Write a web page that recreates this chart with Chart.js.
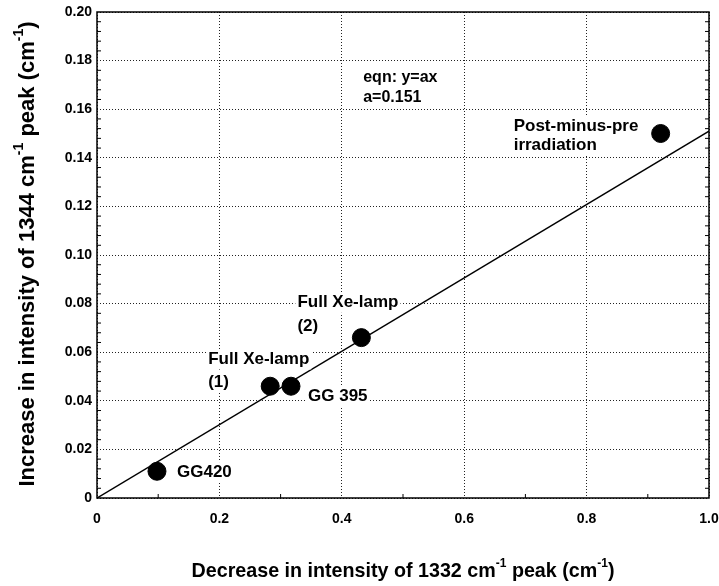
<!DOCTYPE html>
<html>
<head>
<meta charset="utf-8">
<script src="https://cdn.jsdelivr.net/npm/chart.js@4"></script>
<style>
  html, body { margin: 0; padding: 0; background: #fff; }
  #wrap { width: 719px; height: 586px; position: relative; }
</style>
</head>
<body>
<div id="wrap"><canvas id="chart"></canvas></div>
<script>
// samples
const sampleNames = ['GG420', 'Full Xe-lamp (1)', 'GG 395', 'Full Xe-lamp (2)', 'Post-minus-pre irradiation'];
const decrease1332 = [0.098, 0.283, 0.317, 0.432, 0.921];
const increase1344 = [0.011, 0.046, 0.046, 0.066, 0.150];

// fit y = a x
const slopeA = 0.151;
const fitX = [0, 1.0];

const xTicks = [0, 0.2, 0.4, 0.6, 0.8, 1.0];
const yTicks = [0, 0.02, 0.04, 0.06, 0.08, 0.10, 0.12, 0.14, 0.16, 0.18, 0.20];

const FONT = '"Liberation Sans", Arial, sans-serif';

// label lines per sample, offset from the point (px)
const pointLabels = [
  { lines: ['GG420'], dx: 20, dy: [1] },
  { lines: ['Full Xe-lamp', '(1)'], dx: -62, dy: [-27, -4] },
  { lines: ['GG 395'], dx: 17, dy: [10] },
  { lines: ['Full Xe-lamp', '(2)'], dx: -64, dy: [-35, -11] },
  { lines: ['Post-minus-pre', 'irradiation'], dx: -147, dy: [-7, 12] },
];

// draw text with superscript pieces: parts = [[text, isSup], ...]
function richWidth(ctx, parts, size) {
  let w = 0;
  parts.forEach(([t, sup]) => {
    ctx.font = `bold ${sup ? Math.round(size * 0.62) : size}px ${FONT}`;
    w += ctx.measureText(t).width;
  });
  return w;
}
function drawRich(ctx, parts, size, x, y) {
  let cx = x;
  parts.forEach(([t, sup]) => {
    ctx.font = `bold ${sup ? Math.round(size * 0.62) : size}px ${FONT}`;
    ctx.fillText(t, cx, sup ? y - size * 0.5 : y);
    cx += ctx.measureText(t).width;
  });
}

// text on a white box, left aligned, vertically centred
function boxText(ctx, t, x, y, size) {
  ctx.font = `bold ${size}px ${FONT}`;
  const w = ctx.measureText(t).width;
  ctx.fillStyle = '#fff';
  ctx.fillRect(x - 2, y - size * 0.6, w + 4, size * 1.2);
  ctx.fillStyle = '#000';
  ctx.fillText(t, x, y);
}

const xTitle = [['Decrease in intensity of 1332 cm', false], ['-1', true], [' peak (cm', false], ['-1', true], [')', false]];
const yTitle = [['Increase in intensity of 1344 cm', false], ['-1', true], [' peak (cm', false], ['-1', true], [')', false]];

const decor = {
  id: 'decor',
  beforeDatasetsDraw(chart) {
    const { ctx, chartArea: a, scales: { x, y } } = chart;
    ctx.save();
    ctx.strokeStyle = '#000';
    ctx.lineWidth = 1;
    for (let v = 0.1; v < 1; v += 0.2) {
      const px = x.getPixelForValue(v);
      ctx.beginPath();
      ctx.moveTo(px, a.bottom); ctx.lineTo(px, a.bottom - 4);
      ctx.stroke();
    }
    for (let i = 1; i < 50; i++) {
      if (i % 5 === 0) continue;
      const py = y.getPixelForValue(i * 0.004);
      ctx.beginPath();
      ctx.moveTo(a.left, py); ctx.lineTo(a.left + 4, py);
      ctx.moveTo(a.right, py); ctx.lineTo(a.right - 4, py);
      ctx.stroke();
    }
    ctx.restore();
  },
  afterDatasetsDraw(chart) {
    const { ctx, scales: { x, y } } = chart;
    ctx.save();
    ctx.textBaseline = 'middle';
    ctx.textAlign = 'left';
    pointLabels.forEach((lab, i) => {
      const px = x.getPixelForValue(decrease1332[i]);
      const py = y.getPixelForValue(increase1344[i]);
      lab.lines.forEach((t, k) => boxText(ctx, t, px + lab.dx, py + lab.dy[k], 17));
    });
    const ex = x.getPixelForValue(0.435), ey = y.getPixelForValue(0.173);
    boxText(ctx, 'eqn: y=ax', ex, ey, 16);
    boxText(ctx, 'a=' + slopeA, ex, ey + 20, 16);
    ctx.restore();
  },
  afterDraw(chart) {
    const { ctx, chartArea: a } = chart;
    ctx.save();
    // frame
    ctx.strokeStyle = '#000';
    ctx.lineWidth = 1.5;
    ctx.strokeRect(a.left, a.top, a.right - a.left, a.bottom - a.top);
    // axis titles
    ctx.fillStyle = '#000';
    ctx.textBaseline = 'alphabetic';
    ctx.textAlign = 'left';
    const sx = 19.7;
    const wx = richWidth(ctx, xTitle, sx);
    drawRich(ctx, xTitle, sx, (a.left + a.right) / 2 - wx / 2, 577);
    const sy = 22;
    const wy = richWidth(ctx, yTitle, sy);
    ctx.translate(34, 254);
    ctx.rotate(-Math.PI / 2);
    drawRich(ctx, yTitle, sy, -wy / 2, 0);
    ctx.restore();
  }
};

new Chart(document.getElementById('chart'), {
  type: 'scatter',
  data: {
    datasets: [
      {
        label: 'samples',
        data: decrease1332.map((v, i) => ({ x: v, y: increase1344[i] })),
        backgroundColor: '#000',
        borderColor: '#000',
        pointRadius: 9,
        pointHoverRadius: 9,
      },
      {
        label: 'fit',
        type: 'line',
        data: fitX.map(v => ({ x: v, y: slopeA * v })),
        borderColor: '#000',
        borderWidth: 1.5,
        pointRadius: 0,
        fill: false,
        order: 1,
      },
    ],
  },
  options: {
    responsive: true,
    maintainAspectRatio: false,
    animation: false,
    layout: { padding: { top: 12, right: 10, left: 0, bottom: 0 } },
    plugins: {
      legend: { display: false },
      tooltip: { enabled: false },
    },
    scales: {
      x: {
        type: 'linear',
        min: 0,
        max: 1.0,
        afterBuildTicks: s => { s.ticks = xTicks.map(v => ({ value: v })); },
        afterFit: s => { s.height = 88; s.paddingRight = 0; s.paddingLeft = 0; },
        ticks: {
          color: '#000',
          font: { family: FONT, size: 14, weight: 'bold' },
          padding: 13,
          maxRotation: 0,
          callback: v => (v === 0 ? '0' : v.toFixed(1)),
        },
        grid: { color: '#222', drawTicks: false, lineWidth: 1 },
        border: { display: false, dash: [1, 2] },
      },
      y: {
        type: 'linear',
        min: 0,
        max: 0.2,
        afterBuildTicks: s => { s.ticks = yTicks.map(v => ({ value: v })); },
        afterFit: s => { s.width = 97; s.paddingTop = 0; s.paddingBottom = 0; },
        ticks: {
          color: '#000',
          font: { family: FONT, size: 14, weight: 'bold' },
          padding: 5,
          callback: v => (v === 0 ? '0' : v.toFixed(2)),
        },
        grid: { color: '#222', drawTicks: false, lineWidth: 1 },
        border: { display: false, dash: [1, 2] },
      },
    },
  },
  plugins: [decor],
});
</script>
</body>
</html>
